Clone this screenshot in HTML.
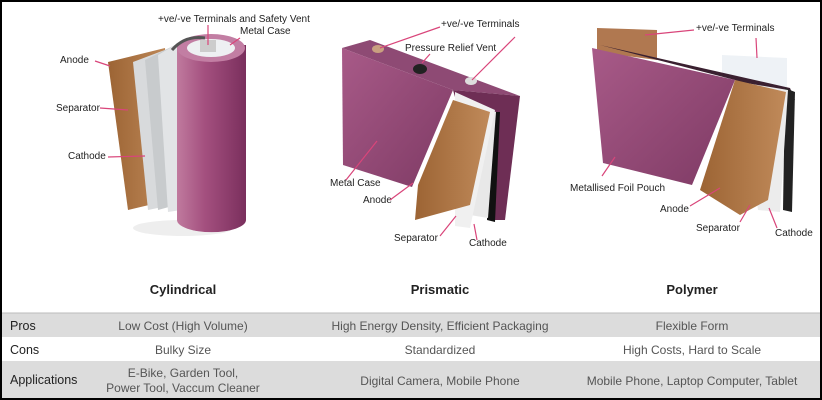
<!DOCTYPE html>
<html><head><style>
body{margin:0;background:#fff;}
svg{display:block;font-family:"Liberation Sans",Arial,sans-serif;}
.l{font-size:10px;fill:#222;}
.t{font-size:13px;font-weight:bold;fill:#222;}
.c{font-size:12px;fill:#555;}
.h{font-size:12.5px;fill:#222;}
.p{stroke:#d9457a;stroke-width:1.2;fill:none;}
</style></head><body>
<svg width="822" height="400" viewBox="0 0 822 400">
<defs>
<linearGradient id="cyl" x1="0" x2="1"><stop offset="0" stop-color="#c07a9e"/><stop offset="0.4" stop-color="#a4507f"/><stop offset="1" stop-color="#7a2f5d"/></linearGradient>
<linearGradient id="pur" x1="0" x2="1" y1="0" y2="1"><stop offset="0" stop-color="#a85a88"/><stop offset="1" stop-color="#7e3a64"/></linearGradient>
<linearGradient id="br" x1="0" x2="1"><stop offset="0" stop-color="#9c6434"/><stop offset="1" stop-color="#c08a5a"/></linearGradient>
</defs>
<rect x="1" y="1" width="820" height="398" fill="#fff" stroke="#000" stroke-width="2"/>

<!-- Cylindrical -->
<ellipse cx="183" cy="228" rx="50" ry="8" fill="#eee"/>
<polygon points="108,62 165,48 170,200 128,210" fill="url(#br)"/>
<polygon points="133,62 170,48 172,205 148,210" fill="#d8dadc"/>
<polygon points="145,60 175,45 176,205 158,210" fill="#c8cbcd"/>
<polygon points="158,55 180,42 181,210 168,212" fill="#e2e4e6"/>
<path d="M177,45 L177,220 A34,12 0 0 0 246,220 L246,45 Z" fill="url(#cyl)"/>
<ellipse cx="211" cy="48" rx="34" ry="14" fill="#c27ea3"/>
<ellipse cx="211" cy="48" rx="24" ry="9" fill="#eef0f2"/>
<rect x="200" y="40" width="16" height="12" fill="#ccc"/>
<path d="M172,50 Q185,35 205,38" stroke="#555" stroke-width="3" fill="none"/>
<text class="l" x="158" y="22">+ve/-ve Terminals and Safety Vent</text>
<text class="l" x="240" y="34">Metal Case</text>
<text class="l" x="60" y="63">Anode</text>
<text class="l" x="56" y="111">Separator</text>
<text class="l" x="68" y="159">Cathode</text>
<path class="p" d="M208,25 L208,45 M240,38 L230,45 M95,61 L110,66 M100,108 L128,110 M108,157 L145,156"/>
<text class="t" x="183" y="294" text-anchor="middle">Cylindrical</text>

<!-- Prismatic -->
<polygon points="342,48 370,40 520,96 453,90" fill="#8e4a74"/>
<polygon points="453,90 520,96 505,220 490,220" fill="#6e2e55"/>
<polygon points="490,112 500,112 495,222 487,220" fill="#111"/>
<polygon points="462,100 496,112 488,218 470,215" fill="#e8e8e8"/>
<polygon points="455,92 495,110 470,228 455,226" fill="#f0f0f0"/>
<polygon points="342,48 453,90 412,187 343,165" fill="url(#pur)"/>
<polygon points="453,100 490,112 470,205 415,220 418,185" fill="url(#br)"/>
<ellipse cx="378" cy="49" rx="6" ry="4" fill="#c9a080"/>
<ellipse cx="420" cy="69" rx="7" ry="5" fill="#222"/>
<ellipse cx="471" cy="81" rx="6" ry="4" fill="#ddd"/>
<text class="l" x="441" y="27">+ve/-ve Terminals</text>
<text class="l" x="405" y="51">Pressure Relief Vent</text>
<text class="l" x="330" y="186">Metal Case</text>
<text class="l" x="363" y="203">Anode</text>
<text class="l" x="394" y="241">Separator</text>
<text class="l" x="469" y="246">Cathode</text>
<path class="p" d="M440,27 L380,48 M430,54 L422,63 M515,37 L472,80 M346,180 L377,141 M390,200 L413,183 M440,236 L456,216 M477,240 L474,224"/>
<text class="t" x="440" y="294" text-anchor="middle">Prismatic</text>

<!-- Polymer -->
<polygon points="597,28 657,30 657,60 597,52" fill="#b07850"/>
<polygon points="722,55 787,58 787,90 722,82" fill="#eef2f6"/>
<polygon points="600,45 790,88 795,100 735,80" fill="#3a2030"/>
<polygon points="785,88 795,92 792,212 783,210" fill="#222"/>
<polygon points="740,82 788,90 780,212 758,210" fill="#ececec"/>
<polygon points="592,48 735,80 692,185 603,163" fill="url(#pur)"/>
<polygon points="735,80 786,92 768,200 740,215 700,190" fill="url(#br)"/>
<text class="l" x="696" y="31">+ve/-ve Terminals</text>
<text class="l" x="570" y="191">Metallised Foil Pouch</text>
<text class="l" x="660" y="212">Anode</text>
<text class="l" x="696" y="231">Separator</text>
<text class="l" x="775" y="236">Cathode</text>
<path class="p" d="M694,30 L645,35 M756,38 L757,58 M602,176 L615,157 M690,206 L720,188 M740,222 L750,205 M777,228 L769,208"/>
<text class="t" x="692" y="294" text-anchor="middle">Polymer</text>

<!-- Table -->
<rect x="2" y="313" width="818" height="24" fill="#dcdcdc"/>
<rect x="2" y="361" width="818" height="37" fill="#dcdcdc"/>
<line x1="2" y1="313" x2="820" y2="313" stroke="#bbb"/>
<text class="h" x="10" y="330">Pros</text>
<text class="h" x="10" y="354">Cons</text>
<text class="h" x="10" y="384">Applications</text>
<g class="c" text-anchor="middle">
<text x="183" y="330">Low Cost (High Volume)</text>
<text x="440" y="330">High Energy Density, Efficient Packaging</text>
<text x="692" y="330">Flexible Form</text>
<text x="183" y="354">Bulky Size</text>
<text x="440" y="354">Standardized</text>
<text x="692" y="354">High Costs, Hard to Scale</text>
<text x="183" y="377">E-Bike, Garden Tool,</text>
<text x="183" y="392">Power Tool, Vaccum Cleaner</text>
<text x="440" y="385">Digital Camera, Mobile Phone</text>
<text x="692" y="385">Mobile Phone, Laptop Computer, Tablet</text>
</g>
</svg>
</body></html>
